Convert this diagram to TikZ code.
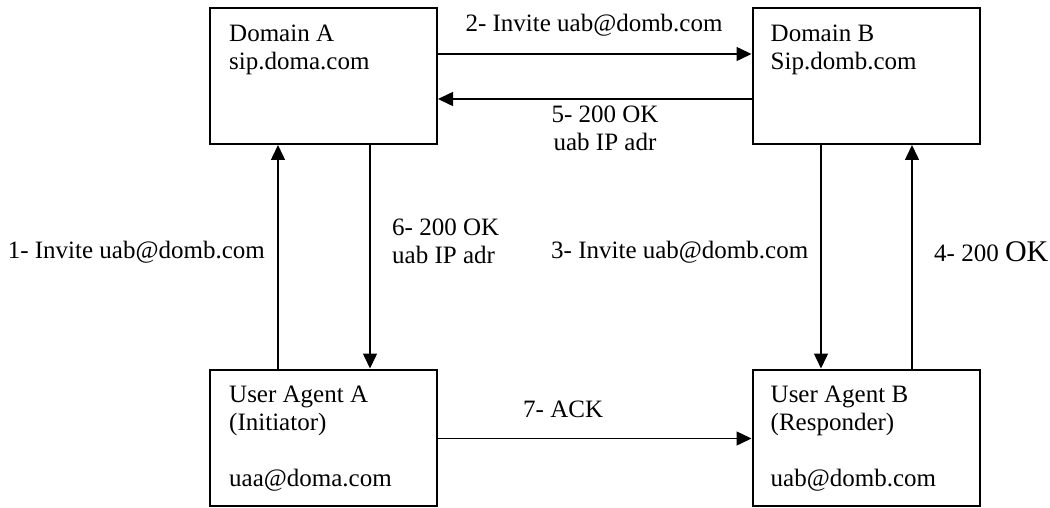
\documentclass[tikz,border=0pt]{standalone}
\usepackage{fontspec}
\setmainfont{Liberation Serif}
\usetikzlibrary{arrows.meta}
\begin{document}
\begin{tikzpicture}[x=1pt,y=-1pt, every node/.style={font=\fontsize{25}{28}\selectfont},
  box/.style={draw,line width=2pt,minimum width=227pt,minimum height=136pt,inner sep=0pt},
  boxtxt/.style={anchor=north west,inner sep=0pt,align=left},
  msg/.style={line width=1.5pt,-{Triangle[length=15pt,width=14pt]}},
  lbl/.style={inner sep=0pt}]
\useasboundingbox (0,0) rectangle (1050,508);
% servers
\node[box] (doma) at (323.5,76) {};
\node[box] (domb) at (866,76) {};
\node[boxtxt] (domatxt) at ([xshift=20pt,yshift=-14.4pt]doma.north west) {\strut Domain A\\sip.doma.com};
\node[boxtxt] (dombtxt) at ([xshift=19pt,yshift=-14.4pt]domb.north west) {\strut Domain B\\Sip.domb.com};
% user agents
\node[box] (uaa) at (323.5,437.5) {};
\node[box] (uab) at (866,437.5) {};
\node[boxtxt] (uaatxt) at ([xshift=20pt,yshift=-13.9pt]uaa.north west) {\strut User Agent A\\(Initiator)\\[28.5pt]uaa@doma.com};
\node[boxtxt] (uabtxt) at ([xshift=19pt,yshift=-13.9pt]uab.north west) {\strut User Agent B\\(Responder)\\[28.5pt]uab@domb.com};
% messages
\draw[msg] ([xshift=-45.5pt]uaa.north) -- ([xshift=-45.5pt]doma.south);
\draw[msg] ([yshift=22pt]doma.east) -- ([yshift=22pt]domb.west);
\draw[msg] ([xshift=-45pt]domb.south) -- ([xshift=-45pt]uab.north);
\draw[msg] ([xshift=46pt]uab.north) -- ([xshift=46pt]domb.south);
\draw[msg] ([yshift=-23pt]domb.west) -- ([yshift=-23pt]doma.east);
\draw[msg] ([xshift=46.5pt]doma.south) -- ([xshift=46.5pt]uaa.north);
\draw[msg] ([yshift=-1pt]uaa.east) -- ([yshift=-1pt]uab.west);
% labels (base = last line)
\node[lbl,anchor=base] (m2) at (594,32) {2- Invite uab@domb.com};
\node[lbl,anchor=base,align=center] (m5) at (605,150) {5- 200 OK\\uab IP adr};
\node[lbl,anchor=base east] (m1) at (265,258) {1- Invite uab@domb.com};
\node[lbl,anchor=base west,align=left] (m6) at (392,263) {6- 200 OK\\uab IP adr};
\node[lbl,anchor=base west] (m3) at (551,258) {3- Invite uab@domb.com};
\node[lbl,anchor=base west] (m4) at (934,261) {4- 200 {\fontsize{30}{28}\selectfont OK}};
\node[lbl,anchor=base west] (m7) at (523,417) {7- ACK};
\end{tikzpicture}
\end{document}
